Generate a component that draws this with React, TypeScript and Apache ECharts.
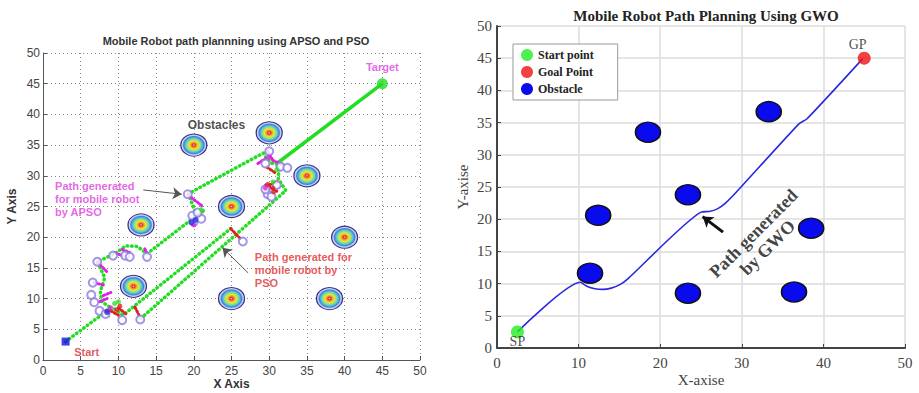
import React, { useEffect, useRef } from "react";
import * as echarts from "echarts";

// ---------- Left panel data (APSO / PSO) ----------
const obstaclesL = [[20, 35], [30, 37], [13, 22], [25, 25], [35, 30], [40, 20], [12, 12], [25, 10], [38, 10]];
const startL = [[3, 3]];
const targetL = [[45, 45]];
const apsoPath = [[3, 3], [9, 8.5], [7.8, 9.5], [7.6, 11.2], [8.2, 13.4], [7.2, 16], [9.5, 17.3], [11, 18.6], [12.5, 18.5], [13.8, 17.3], [21.3, 24.4], [20.5, 23], [19.3, 27.1], [29.2, 33.7], [30.1, 32.2], [30.8, 31.8]];
const finalPath = [[30.8, 31.8], [45, 45]];
const psoPathA = [[9.5, 8.3], [10.6, 7.3], [24.9, 21.4]];
const psoPathB = [[13, 6.8], [32.2, 27.6], [31.2, 29.5], [31.3, 31.5], [30.8, 31.8]];
const apsoSegs = [
  [[19.2, 26.9], [21.2, 25.0]], [[7.2, 16], [8.6, 14.2]], [[6.8, 12.6], [8, 12.2]],
  [[13.5, 18.1], [14, 17]], [[10.5, 18], [11.5, 17.5]], [[9.5, 17.5], [10.5, 17]],
  [[29.8, 34], [30.5, 32.5]], [[30.5, 32.5], [31.8, 31.8]], [[28.5, 32], [29.5, 32.8]],
  [[20, 22.5], [21, 24]], [[7.5, 9.5], [8.5, 10]], [[8, 10.5], [9, 11]],
];
const psoSegs = [
  [[12.2, 8.6], [12.9, 6.9]], [[24.9, 21.4], [26.3, 19.6]], [[29.7, 31.4], [30.8, 30.5]],
  [[29.5, 28.5], [31, 27.5]], [[10, 8.5], [11, 7.5]], [[9, 8], [10, 7.3]], [[30, 28.5], [31, 29]],
];
const hollowPts = [[19.2, 27], [26.5, 19.3], [12.9, 6.6], [10.5, 6.5], [13.8, 16.8], [10.9, 17], [9.3, 17], [11.5, 16.8], [7.2, 16], [6.6, 12.6], [6.4, 10.6], [6.8, 9.4], [7.5, 8], [8.3, 7.5], [20, 22.5], [21, 23], [19.8, 23.5], [20.5, 24], [29.5, 32], [30, 34], [31.5, 31.5], [32.4, 31.3], [29.8, 27], [30.3, 26.6], [29.5, 27.8], [31, 28.5]];
const magentaPts = [[9, 8.5], [8.5, 8], [20, 22], [30, 33], [29.5, 28]];
const redPts = [[9.8, 8.2], [10.2, 8.8], [30.5, 28], [29.8, 28.6], [30.6, 27.4]];
const bluePts = [[8.5, 7.8], [19.7, 22.4], [20.2, 22.8]];
const greenPts = [[9.5, 9.2], [10, 9.5], [21, 24.5], [30.5, 29], [31, 31]];
const arrowsL = [[[13.3, 27.7], [18.4, 27.0]], [[27.2, 14.2], [23.8, 18.3]]];

// ---------- Right panel data (GWO) ----------
const spR = [[2.5, 2.5]];
const gpR = [[45, 45]];
const obstaclesR = [[18.5, 33.5], [33.3, 36.7], [23.4, 23.8], [12.4, 20.6], [11.4, 11.6], [23.4, 8.5], [36.4, 8.7], [38.5, 18.6]];
const gwoPath = [[2.5, 2.5], [10.2, 10.2], [11, 9.6], [12, 9.2], [13, 9.1], [14, 9.3], [15, 9.8], [16, 10.7], [25, 21.1], [26, 21.2], [27, 21.6], [28, 22.5], [29.4, 24.3], [37, 34.8], [38, 35.6], [44.8, 44.9]];
const arrowR = [[[27.7, 18], [25.2, 20.4]]];

const sans = "'Liberation Sans', Arial, sans-serif";
const serif = "'Liberation Serif', 'Times New Roman', serif";

function textSeries(xi: number, items: any[]) {
  return {
    type: "scatter", xAxisIndex: xi, yAxisIndex: xi, symbolSize: 0, silent: true, z: 20,
    data: items.map((it) => ({
      value: it.pos,
      label: { show: true, position: "inside", formatter: it.text, ...it.style },
    })),
  };
}

export default function App() {
  const ref = useRef<HTMLDivElement>(null);
  useEffect(() => {
    const chart = echarts.init(ref.current!, null, { renderer: "svg" });
    const obstacleGrad = new echarts.graphic.RadialGradient(0.5, 0.5, 0.5, [
      { offset: 0, color: "#f4e8e0" },
      { offset: 0.1, color: "#d83020" },
      { offset: 0.22, color: "#f09030" },
      { offset: 0.36, color: "#f0e040" },
      { offset: 0.5, color: "#a8e060" },
      { offset: 0.64, color: "#40d0d8" },
      { offset: 0.78, color: "#4878e0" },
      { offset: 0.88, color: "#c8ccf0" },
      { offset: 1, color: "#e8ecf8" },
    ]);
    const axisL = (name: string, isY: boolean) => ({
      type: "value", gridIndex: 0, min: 0, max: 50, interval: 5,
      name, nameLocation: "middle", nameGap: isY ? 25 : 18, nameMoveOverlap: false,
      nameTextStyle: { fontFamily: sans, fontWeight: "bold", fontSize: 12, color: "#333" },
      axisLine: { show: true, onZero: false, lineStyle: { color: "#555", width: 1 } },
      axisTick: { show: true, inside: true, length: 4, lineStyle: { color: "#555" } },
      axisLabel: { fontFamily: sans, fontSize: 12, color: "#444", margin: isY ? 3 : 5 },
      splitLine: { show: true, lineStyle: { color: "#888", width: 1, type: [1, 3] } },
    });
    const axisR = (name: string, isY: boolean) => ({
      type: "value", gridIndex: 1, min: 0, max: 50, interval: isY ? 5 : 10,
      name, nameLocation: "middle", nameGap: isY ? 27 : 24, nameMoveOverlap: false,
      nameTextStyle: { fontFamily: serif, fontSize: 15, color: "#444" },
      axisLine: { show: true, onZero: false, lineStyle: { color: "#444", width: 2 } },
      axisTick: { show: true, inside: true, length: 4, lineStyle: { color: "#444" } },
      axisLabel: { fontFamily: serif, fontSize: 15, color: "#444", margin: isY ? 5 : 7 },
      splitLine: { show: true, lineStyle: { color: "#dcdcdc", width: 1.5 } },
    });
    const option: any = {
      animation: false,
      backgroundColor: "#ffffff",
      title: [
        { text: "Mobile Robot path plannning using APSO and PSO", left: 231, top: 30, textAlign: "center",
          textStyle: { fontFamily: sans, fontWeight: "bold", fontSize: 11, color: "#333" } },
        { text: "Mobile Robot Path Planning Using GWO", left: 701, top: 3, textAlign: "center",
          textStyle: { fontFamily: serif, fontWeight: "bold", fontSize: 15, color: "#222" } },
      ],
      legend: {
        left: 513, top: 44, orient: "vertical", itemGap: 5, itemWidth: 12, itemHeight: 12,
        borderColor: "#999", borderWidth: 1, padding: [5, 24, 5, 8], backgroundColor: "#fff",
        textStyle: { fontFamily: serif, fontWeight: "bold", fontSize: 12, color: "#222" },
        data: [
          { name: "Start point", icon: "circle", itemStyle: { borderWidth: 0 } },
          { name: "Goal Point", icon: "circle", itemStyle: { borderWidth: 0 } },
          { name: "Obstacle", icon: "circle", itemStyle: { borderWidth: 0 } },
        ],
      },
      grid: [
        { left: 43, right: 499, top: 53, bottom: 33, containLabel: false, outerBoundsMode: "none" },
        { left: 497, right: 14, top: 26, bottom: 45, containLabel: false, outerBoundsMode: "none" },
      ],
      xAxis: [axisL("X Axis", false), axisR("X-axise", false)],
      yAxis: [axisL("Y Axis", true), axisR("Y-axise", true)],
      series: [
        // ----- left -----
        { type: "scatter", xAxisIndex: 0, yAxisIndex: 0, data: obstaclesL, symbol: "circle", symbolSize: [26, 22],
          itemStyle: { color: obstacleGrad, borderColor: "#34348a", borderWidth: 1.2, opacity: 1 }, z: 2 },
        { type: "line", xAxisIndex: 0, yAxisIndex: 0, data: apsoPath, showSymbol: false, z: 3,
          lineStyle: { color: "#22dd22", width: 3.5, type: [0.5, 4], cap: "round" } },
        { type: "line", xAxisIndex: 0, yAxisIndex: 0, data: psoPathA, showSymbol: false, z: 3,
          lineStyle: { color: "#22dd22", width: 3.5, type: [0.5, 4], cap: "round" } },
        { type: "line", xAxisIndex: 0, yAxisIndex: 0, data: psoPathB, showSymbol: false, z: 3,
          lineStyle: { color: "#22dd22", width: 3.5, type: [0.5, 4], cap: "round" } },
        { type: "line", xAxisIndex: 0, yAxisIndex: 0, data: finalPath, showSymbol: false, z: 3,
          lineStyle: { color: "#22dd22", width: 3.5 } },
        { type: "lines", coordinateSystem: "cartesian2d", xAxisIndex: 0, yAxisIndex: 0, z: 4,
          data: apsoSegs.map((c) => ({ coords: c })),
          lineStyle: { color: "#e020e0", width: 3, type: [1.5, 2.5], cap: "round", opacity: 1 } },
        { type: "lines", coordinateSystem: "cartesian2d", xAxisIndex: 0, yAxisIndex: 0, z: 4,
          data: psoSegs.map((c) => ({ coords: c })),
          lineStyle: { color: "#e02020", width: 3, type: [1.5, 2.5], cap: "round", opacity: 1 } },
        { type: "scatter", xAxisIndex: 0, yAxisIndex: 0, data: hollowPts, symbol: "emptyCircle", symbolSize: 8, z: 5,
          itemStyle: { color: "#8c7ce0", borderColor: "#8c7ce0", borderWidth: 1 } },
        { type: "scatter", xAxisIndex: 0, yAxisIndex: 0, data: magentaPts, symbolSize: 5, z: 5, itemStyle: { color: "#e020e0" } },
        { type: "scatter", xAxisIndex: 0, yAxisIndex: 0, data: redPts, symbolSize: 5, z: 5, itemStyle: { color: "#e02020" } },
        { type: "scatter", xAxisIndex: 0, yAxisIndex: 0, data: bluePts, symbolSize: 6, z: 5, itemStyle: { color: "#3030e0" } },
        { type: "scatter", xAxisIndex: 0, yAxisIndex: 0, data: greenPts, symbolSize: 5, z: 5, itemStyle: { color: "#30dd30" } },
        { type: "scatter", xAxisIndex: 0, yAxisIndex: 0, data: startL, symbol: "rect", symbolSize: 8, z: 6, itemStyle: { color: "#1010e0" } },
        { type: "scatter", xAxisIndex: 0, yAxisIndex: 0, data: targetL, symbol: "circle", symbolSize: 11, z: 6, itemStyle: { color: "#22dd22" } },
        { type: "lines", coordinateSystem: "cartesian2d", xAxisIndex: 0, yAxisIndex: 0, z: 7,
          symbol: ["none", "arrow"], symbolSize: 9,
          data: arrowsL.map((c) => ({ coords: c })),
          lineStyle: { color: "#555", width: 1, opacity: 1 } },
        textSeries(0, [
          { pos: [23, 38.3], text: "Obstacles", style: { fontFamily: sans, fontWeight: "bold", fontSize: 12, color: "#222" } },
          { pos: [45, 47.8], text: "Target", style: { fontFamily: sans, fontWeight: "bold", fontSize: 11, color: "#e040e0" } },
          { pos: [5.8, 1.3], text: "Start", style: { fontFamily: sans, fontWeight: "bold", fontSize: 11, color: "#d83030" } },
          { pos: [1.6, 29.4], text: "Path generated\nfor mobile robot\nby APSO",
            style: { fontFamily: sans, fontWeight: "bold", fontSize: 11, lineHeight: 13, color: "#e040e0", align: "left", verticalAlign: "top" } },
          { pos: [28.1, 17.8], text: "Path generated for\nmobile robot by\nPSO",
            style: { fontFamily: sans, fontWeight: "bold", fontSize: 11, lineHeight: 13, color: "#e03030", align: "left", verticalAlign: "top" } },
        ]),
        // ----- right -----
        { type: "line", xAxisIndex: 1, yAxisIndex: 1, data: gwoPath, showSymbol: false, z: 3, smooth: 0.2,
          lineStyle: { color: "#2828e0", width: 1.6 } },
        { name: "Obstacle", type: "scatter", xAxisIndex: 1, yAxisIndex: 1, data: obstaclesR, symbol: "circle", symbolSize: [25, 20], z: 4,
          itemStyle: { color: "#0a0aee", borderColor: "#111", borderWidth: 1.5, opacity: 1 } },
        { name: "Start point", type: "scatter", xAxisIndex: 1, yAxisIndex: 1, data: spR, symbol: "circle", symbolSize: 13, z: 5,
          itemStyle: { color: "#22ee22" } },
        { name: "Goal Point", type: "scatter", xAxisIndex: 1, yAxisIndex: 1, data: gpR, symbol: "circle", symbolSize: 13, z: 5,
          itemStyle: { color: "#ee1111" } },
        { type: "lines", coordinateSystem: "cartesian2d", xAxisIndex: 1, yAxisIndex: 1, z: 7,
          symbol: ["none", "arrow"], symbolSize: 10,
          data: arrowR.map((c) => ({ coords: c })),
          lineStyle: { color: "#111", width: 3, opacity: 1 } },
        textSeries(1, [
          { pos: [2.5, 1.0], text: "SP", style: { fontFamily: serif, fontSize: 14, color: "#222" } },
          { pos: [44.2, 47.1], text: "GP", style: { fontFamily: serif, fontSize: 14, color: "#222" } },
          { pos: [32.3, 16.7], text: "Path generated\nby GWO",
            style: { fontFamily: serif, fontWeight: "bold", fontSize: 18, lineHeight: 20, color: "#111", rotate: 45, align: "center" } },
        ]),
      ],
    };
    chart.setOption(option);
    return () => chart.dispose();
  }, []);
  return <div ref={ref} style={{ position: "fixed", left: 0, top: 0, width: 919, height: 393 }} />;
}
